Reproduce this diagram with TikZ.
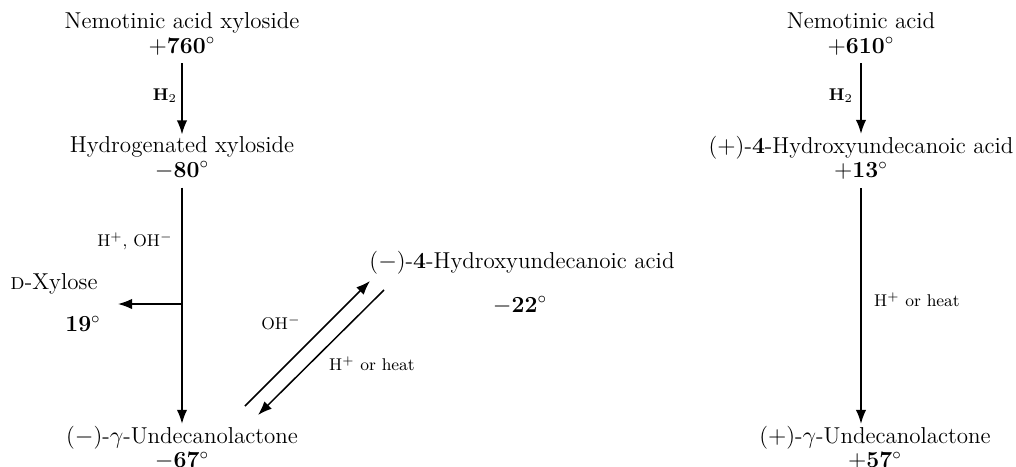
\documentclass[tikz,border=0pt]{standalone}
\usepackage{tikz}
\usetikzlibrary{arrows.meta, positioning, calc}
\newcommand{\degr}{$^\circ$}

\begin{document}
\begin{tikzpicture}[x=0.5pt, y=-0.5pt,
  compound/.style={align=center, font=\fontsize{11.5}{12.2}\selectfont, inner sep=1pt},
  cond/.style={font=\fontsize{8.5}{10}\selectfont, inner sep=1pt},
  rxn/.style={-{Latex[length=7pt,width=5.2pt]}, line width=0.75pt}]
  \useasboundingbox (0,0) rectangle (1016,466);

  % left column
  \node[compound] (xyl) at (182,34) {Nemotinic acid xyloside\\$+$\textbf{760}\degr};
  \node[compound] (hyd) at (182,158) {Hydrogenated xyloside\\$-$\textbf{80}\degr};
  \node[compound] (lac) at (182,448) {($-$)-$\gamma$-Undecanolactone\\$-$\textbf{67}\degr};
  \node[compound] (dxyl) at (54,284) {\textsc{d}-Xylose};
  \node[compound] (dxylrot) at (83,324) {\textbf{19}\degr};

  % middle
  \node[compound] (hyminus) at (522,263) {($-$)-\textbf{4}-Hydroxyundecanoic acid};
  \node[compound] (hyminusrot) at (520,305) {$-$\textbf{22}\degr};

  % right column
  \node[compound] (nemo) at (861,34) {Nemotinic acid\\$+$\textbf{610}\degr};
  \node[compound] (hyplus) at (861,158) {($+$)-\textbf{4}-Hydroxyundecanoic acid\\$+$\textbf{13}\degr};
  \node[compound] (lacplus) at (875,448) {($+$)-$\gamma$-Undecanolactone\\$+$\textbf{57}\degr};

  % reactions, left
  \draw[rxn, shorten <=3pt] (xyl) -- (hyd);
  \node[cond] (hlab) at (165,96) {\textbf{H$_2$}};
  \draw[rxn, shorten <=3pt] (hyd) -- (lac);
  \coordinate (split) at (hyd.center |- 0,304);
  \coordinate (xyltip) at (118,304);
  \draw[rxn] (split) -- (xyltip);
  \node[cond] (acidlab) at (135,241) {H$^+$, OH$^-$};

  % equilibrium
  \coordinate (upstart) at (245,406);
  \coordinate (uptip) at (370,281);
  \coordinate (dnstart) at (384,290);
  \coordinate (dntip) at (258,415);
  \draw[rxn] (upstart) -- (uptip);
  \draw[rxn] (dnstart) -- (dntip);
  \node[cond] (ohlab) at (281,323) {OH$^-$};
  \node[cond] (heatlab) at (372,364) {H$^+$ or heat};

  % reactions, right
  \draw[rxn, shorten <=3pt] (nemo) -- (hyplus);
  \node[cond] (h2lab) at (841,96) {\textbf{H$_2$}};
  \draw[rxn, shorten <=3pt] (hyplus.south) -- (hyplus.south |- lacplus.north);
  \node[cond] (heatlabr) at (917,300) {H$^+$ or heat};
\end{tikzpicture}
\end{document}
